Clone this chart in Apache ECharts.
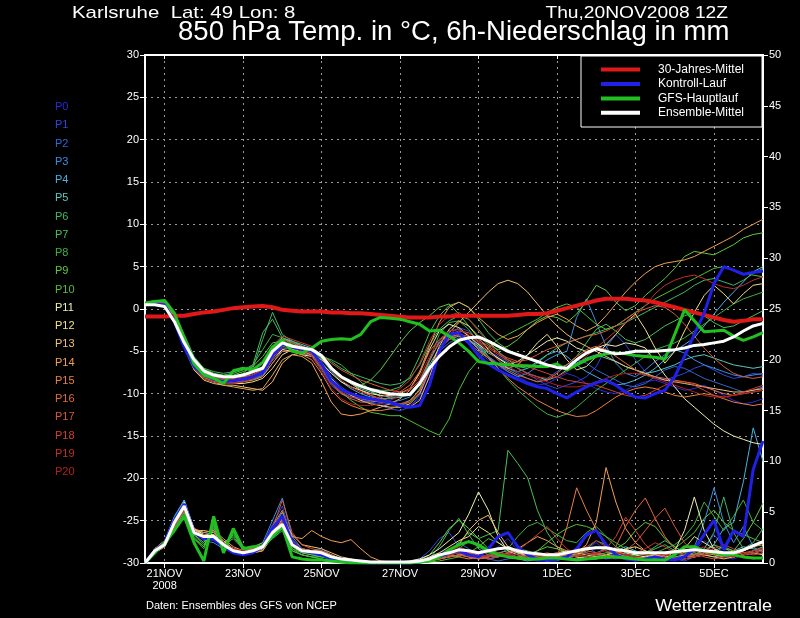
<!DOCTYPE html>
<html><head><meta charset="utf-8">
<script src="https://cdn.jsdelivr.net/npm/echarts@6/dist/echarts.min.js"></script>
<style>html,body{margin:0;padding:0;background:#000;}#c{width:800px;height:618px;}</style>
</head><body><div id="c"></div>
<script>
// forecast hours from 20NOV2008 12Z (6-hourly)
const hours = [0,6,12,18,24,30,36,42,48,54,60,66,72,78,84,90,96,102,108,114,120,126,132,138,144,150,156,162,168,174,180,186,192,198,204,210,216,222,228,234,240,246,252,258,264,270,276,282,288,294,300,306,312,318,324,330,336,342,348,354,360,366,372,378];
const xTickHours = [12,60,108,156,204,252,300,348];
const xTickLabels = ['21NOV\n2008','23NOV','25NOV','27NOV','29NOV','1DEC','3DEC','5DEC'];
const memberNames = ['P0','P1','P2','P3','P4','P5','P6','P7','P8','P9','P10','P11','P12','P13','P14','P15','P16','P17','P18','P19','P20'];
const memberColors = ['#2a2ad8','#2e46e0','#3266d2','#3a8ee0','#4cb0e0','#5cc8c0','#40b868','#48c058','#40b040','#60c840','#50c030','#f0f0b0','#f0e080','#f0c070','#f0a050','#e88040','#e06a40','#d85838','#d04030','#c03028','#b02020'];
const legendNames = ['30-Jahres-Mittel','Kontroll-Lauf','GFS-Hauptlauf','Ensemble-Mittel'];
const legendColors = ['#e01818','#2020e8','#20c020','#ffffff'];

// 850 hPa temperature (°C)
const climate = [-0.9,-0.9,-0.9,-0.8,-0.8,-0.6,-0.4,-0.3, -0.1,0.1,0.2,0.3,0.35,0.2,-0.1,-0.2, -0.3,-0.3,-0.3,-0.4,-0.4,-0.5,-0.5,-0.6, -0.7,-0.8,-0.9,-1.0,-1.0,-1.0,-0.9,-0.9, -0.8,-0.8,-0.8,-0.8,-0.8,-0.8,-0.7,-0.6, -0.6,-0.5,-0.2,0.1,0.4,0.7,1.0,1.2, 1.2,1.2,1.1,1.0,0.8,0.5,0.2,-0.1, -0.4,-0.7,-1.0,-1.3,-1.5,-1.4,-1.2,-1.2];
const ensMean = [0.5,0.5,0.3,-1.5,-4.0,-6.0,-7.3,-7.8, -8.0,-8.0,-7.8,-7.4,-7.0,-5.0,-4.0,-4.4, -4.6,-4.8,-5.5,-7.0,-8.0,-8.6,-9.1,-9.5, -9.8,-10.0,-10.1,-10.1,-8.8,-7.0,-5.6,-4.5, -3.7,-3.4,-3.3,-3.8,-4.4,-5.0,-5.4,-5.8, -6.2,-6.6,-6.9,-7.0,-6.0,-5.2,-4.7,-5.0, -5.3,-5.2,-5.0,-5.0,-5.0,-4.9,-4.8,-4.6, -4.3,-4.2,-4.0,-3.8,-3.3,-2.6,-2.0,-1.7];
const gfsMain = [0.7,0.9,1.0,-0.5,-3.5,-6.5,-7.8,-8.2, -8.8,-7.3,-7.0,-7.2,-6.3,-4.5,-3.7,-5.0, -5.2,-4.6,-3.8,-3.6,-3.5,-3.6,-3.0,-1.5, -1.0,-1.1,-1.2,-1.5,-1.8,-2.6,-2.5,-3.2, -4.0,-5.0,-6.2,-6.4,-6.5,-6.6,-6.7,-6.7, -6.8,-6.8,-6.5,-7.2,-6.6,-6.0,-5.6,-5.3, -5.2,-5.3,-5.5,-5.6,-5.7,-5.9,-3.0,-0.1, -1.4,-2.7,-2.6,-2.5,-3.2,-3.7,-3.3,-2.8];
const control = [0.5,0.6,0.5,-1.5,-4.5,-6.8,-7.8,-8.3, -8.6,-8.5,-8.3,-8.0,-7.5,-5.5,-4.2,-4.5, -4.8,-5.0,-6.5,-8.5,-9.5,-10.0,-10.4,-10.6, -10.8,-11.0,-11.4,-11.6,-11.4,-9.0,-5.0,-3.0, -2.8,-4.0,-5.5,-6.5,-7.2,-7.8,-8.3,-8.8, -9.2,-9.4,-10.0,-10.5,-9.8,-9.2,-8.7,-8.4, -9.0,-9.8,-10.4,-10.5,-10.0,-9.6,-8.0,-5.6, -3.0,-0.5,3.0,5.0,4.6,4.1,4.3,4.5];

const T_P0 = [0.5,0.6,0.4,-1.2,-4.2,-6.8,-7.9,-8.4, -8.7,-8.6,-8.4,-8.1,-7.6,-5.8,-4.4,-4.6, -5.0,-5.4,-7.0,-8.8,-9.8,-10.4,-10.8,-11.0, -11.2,-11.3,-11.5,-11.4,-10.6,-8.0,-4.6,-3.2, -3.0,-4.2,-5.2,-6.0,-6.8,-7.4,-8.0,-8.6, -9.0,-8.8,-8.2,-7.6,-8.0,-8.8,-9.4,-9.8, -10.0,-9.6,-9.0,-8.6,-8.4,-8.8,-9.2,-9.6, -9.4,-9.0,-9.6,-10.2,-10.8,-11.2,-11.0,-10.6];
const T_P1 = [0.6,0.7,0.5,-1.0,-4.0,-6.6,-7.8,-8.2, -8.5,-8.5,-8.3,-8.0,-7.4,-5.2,-4.0,-4.3, -4.7,-5.0,-6.2,-8.0,-9.2,-10.0,-10.6,-11.0, -11.4,-11.8,-12.0,-11.6,-10.2,-7.4,-4.8,-3.0, -2.2,-2.6,-3.8,-5.0,-5.6,-6.2,-7.0,-7.6, -8.4,-9.0,-9.4,-9.0,-8.6,-8.0,-6.8,-4.6, -3.0,-4.2,-6.0,-7.4,-8.2,-8.4,-8.0,-7.6, -7.0,-6.6,-7.2,-7.8,-8.2,-8.0,-7.6,-7.8];
const T_P2 = [0.4,0.5,0.3,-1.4,-4.4,-6.9,-8.0,-8.5, -8.8,-8.8,-8.6,-8.2,-7.8,-6.0,-4.6,-4.8, -5.2,-5.6,-7.2,-9.0,-10.0,-10.4,-10.6,-10.8, -11.0,-11.2,-11.2,-10.8,-9.6,-7.0,-5.0,-4.0, -3.4,-3.8,-4.6,-5.6,-6.4,-7.0,-7.6,-8.2, -8.6,-8.2,-7.4,-6.6,-6.0,-6.4,-7.2,-7.8, -8.4,-9.0,-9.2,-8.8,-8.0,-7.2,-6.8,-7.0, -7.6,-8.2,-8.6,-9.0,-9.4,-9.8,-9.6,-9.2];
const T_P3 = [0.5,0.8,0.6,-0.8,-3.8,-6.4,-7.6,-8.0, -8.4,-8.6,-8.6,-8.3,-7.9,-6.4,-4.8,-4.4, -4.6,-5.2,-6.6,-8.4,-9.6,-10.2,-10.6,-10.8, -11.0,-11.0,-10.8,-10.4,-9.0,-6.2,-3.8,-2.6, -2.4,-3.2,-4.4,-5.6,-6.6,-7.4,-8.0,-7.6, -6.8,-6.0,-5.4,-5.0,-1.0,1.2,-1.6,-4.4, -6.4,-7.6,-8.0,-7.2,-6.2,-5.4,-4.8,-5.2, -6.0,-6.6,-7.0,-7.4,-7.8,-8.0,-7.8,-7.6];
const T_P4 = [0.6,0.6,0.4,-1.2,-4.2,-6.6,-7.6,-8.0, -8.2,-8.2,-8.0,-7.8,-7.2,-5.0,-3.6,-3.8, -4.4,-4.8,-5.8,-7.4,-8.6,-9.4,-10.0,-10.4, -10.6,-10.6,-10.4,-10.0,-8.6,-6.0,-4.0,-3.0, -2.8,-3.6,-4.8,-5.8,-6.6,-7.0,-7.4,-7.0, -6.2,-5.4,-5.0,-5.6,-6.6,-7.4,-8.0,-8.6, -9.0,-8.8,-8.4,-7.8,-7.0,-6.0,-5.0,-4.2, -3.4,-2.0,-0.6,0.8,2.0,3.2,4.4,5.0];
const T_P5 = [0.5,0.7,0.6,-1.0,-3.8,-6.2,-7.4,-7.8, -8.0,-8.0,-7.8,-7.4,-6.8,-4.4,-3.4,-3.8, -4.2,-4.6,-5.4,-6.8,-8.0,-8.8,-9.4,-9.8, -10.2,-10.4,-10.4,-10.2,-9.0,-6.6,-4.6,-3.6, -3.2,-3.6,-4.4,-5.2,-5.8,-6.4,-7.0,-7.6, -8.0,-8.4,-8.0,-7.2,-6.4,-5.8,-5.4,-5.8, -6.2,-6.8,-7.2,-7.6,-7.4,-7.0,-6.6,-6.0, -5.6,-5.4,-5.8,-6.2,-6.6,-6.8,-7.0,-6.8];
const T_P6 = [0.7,0.9,0.8,-0.6,-3.2,-5.8,-7.0,-7.4, -7.6,-7.4,-7.0,-7.0,-3.6,-0.4,-3.0,-3.8, -4.4,-4.8,-5.4,-6.2,-7.0,-7.6,-8.0,-8.4, -8.8,-9.0,-8.8,-8.2,-6.6,-4.2,-2.4,-1.4, -0.8,-1.2,-2.4,-3.8,-5.0,-6.0,-6.8,-7.0, -6.4,-5.4,-4.6,-4.0,-3.6,-3.2,-2.8,-2.4, -2.0,-1.6,-1.0,-0.4,0.2,0.8,1.4,2.0, 2.8,3.4,3.6,3.2,2.8,3.4,4.2,4.8];
const T_P7 = [0.6,0.8,0.7,-0.8,-3.6,-6.0,-7.2,-7.6, -7.8,-7.6,-7.2,-6.6,-2.8,-1.2,-3.4,-4.0, -4.6,-5.0,-6.0,-7.2,-8.2,-8.8,-9.2,-9.4, -9.6,-9.6,-9.2,-8.0,-5.6,-2.8,-0.8,0.4, 0.8,0.2,-1.2,-2.8,-4.0,-4.8,-5.4,-5.8, -6.2,-6.6,-7.0,-6.6,-5.6,-4.0,-2.4,-1.8, -2.6,-3.6,-4.0,-3.6,-2.8,-2.0,-1.4,-0.8, -0.4,-0.8,-1.6,-2.2,-2.0,-1.4,-0.8,-0.2];
const T_P8 = [0.7,1.0,0.9,-0.4,-3.0,-5.6,-7.0,-7.6, -8.0,-8.0,-7.6,-6.6,-4.8,-3.0,-3.4,-4.2, -4.8,-5.2,-5.6,-6.0,-6.6,-7.6,-8.6,-9.6, -10.4,-11.0,-11.4,-11.0,-9.4,-6.0,-3.0,-1.6, -1.4,-2.4,-4.0,-5.6,-7.0,-8.4,-9.6,-10.6, -11.6,-12.4,-12.8,-12.4,-11.6,-10.6,-9.6,-8.8, -8.0,-7.2,-6.4,-5.6,-4.8,-4.4,-4.0,-3.4, -2.6,-1.8,-1.0,-0.2,0.6,1.2,1.6,2.0];
const T_P9 = [0.6,0.8,0.7,-0.6,-3.4,-6.2,-7.4,-7.8, -8.0,-7.8,-7.4,-6.8,-5.6,-4.0,-3.8,-4.2, -4.6,-5.0,-5.8,-7.0,-8.0,-8.6,-9.0,-8.4, -7.2,-5.6,-4.0,-2.6,-1.6,-0.8,0.2,0.6, -0.6,-2.0,-3.2,-4.2,-4.8,-4.4,-3.6,-2.4, -1.4,-0.8,-1.0,-1.6,-0.6,1.0,2.8,2.2, 0.8,-0.2,0.4,1.6,2.6,3.6,4.8,6.2, 6.8,6.6,6.4,7.0,7.6,8.4,8.8,9.0];
const T_P10 = [0.5,0.7,0.6,-1.0,-4.0,-6.6,-7.8,-8.2, -8.4,-8.4,-8.2,-7.8,-7.2,-5.6,-4.4,-4.6, -5.0,-5.6,-7.0,-8.6,-9.8,-10.8,-11.6,-12.2, -12.4,-12.6,-12.6,-13.2,-13.8,-14.4,-14.9,-13.0, -9.6,-7.4,-6.0,-4.6,-3.6,-3.0,-2.4,-1.8, -1.2,-0.4,0.2,0.6,0.2,-0.8,-1.8,-2.4, -2.0,-1.2,-0.4,0.4,1.2,1.8,2.4,3.0, 3.6,4.2,4.8,5.0,4.6,4.2,4.0,3.8];
const T_P11 = [0.4,0.6,0.5,-1.2,-4.4,-7.0,-8.2,-8.6, -8.8,-8.6,-8.4,-8.0,-7.6,-6.0,-4.8,-5.0, -5.4,-5.6,-6.4,-7.6,-8.6,-9.2,-9.6,-10.0, -10.2,-10.2,-10.0,-9.4,-7.6,-4.8,-2.6,-1.8, -2.2,-3.2,-4.2,-5.0,-5.8,-6.6,-6.2,-5.4, -4.6,-3.8,-3.4,-3.8,-4.6,-5.0,-4.6,-4.2, -4.4,-4.0,-4.2,-4.6,-6.2,-7.8,-9.2,-10.6, -11.6,-12.6,-13.6,-14.4,-15.0,-15.4,-15.8,-16.0];
const T_P12 = [0.5,0.7,0.6,-0.8,-3.8,-6.4,-7.6,-8.2, -8.6,-8.8,-8.8,-8.6,-8.2,-7.0,-5.4,-4.8, -5.0,-5.4,-6.6,-8.2,-9.4,-10.2,-10.8,-11.2, -11.4,-11.6,-11.6,-11.2,-10.0,-7.2,-4.4,-2.4, -1.4,-2.0,-3.4,-4.8,-6.0,-7.0,-6.6,-5.4, -4.0,-3.0,-4.4,-6.0,-7.2,-6.8,-5.6,-4.2, -3.0,-1.6,-0.6,-2.4,-4.6,-6.4,-5.0,-2.6, -0.4,1.6,2.8,1.8,0.6,1.8,2.8,3.0];
const T_P13 = [0.4,0.5,0.4,-1.4,-4.6,-7.2,-8.4,-8.8, -9.0,-9.0,-9.2,-9.4,-9.6,-8.6,-6.4,-5.4, -5.2,-5.4,-6.0,-7.0,-8.0,-8.8,-9.6,-10.2, -10.6,-11.0,-11.4,-11.6,-10.8,-8.0,-4.8,-2.8, -1.6,-0.4,0.8,2.0,3.0,3.4,3.0,2.0, 0.6,-0.8,-2.0,-3.0,-3.8,-4.4,-5.0,-5.6, -6.2,-6.8,-7.2,-7.6,-8.0,-8.4,-8.6,-8.8, -9.0,-9.2,-9.4,-9.6,-9.8,-9.8,-9.6,-9.4];
const T_P14 = [0.5,0.6,0.5,-1.2,-4.2,-6.8,-8.0,-8.6, -9.0,-9.2,-9.4,-9.6,-9.4,-7.8,-6.0,-5.4, -5.6,-6.4,-8.6,-11.0,-12.4,-12.6,-12.4,-12.0, -11.6,-11.2,-10.6,-9.6,-7.4,-4.4,-1.6,0.2, 0.8,0.2,-1.0,-2.0,-3.0,-3.6,-3.2,-2.4, -1.6,-1.0,-0.6,-1.2,-2.0,-2.6,-2.0,-0.8, 0.6,2.0,3.2,4.2,5.0,5.4,5.6,5.8, 6.2,6.8,7.4,8.0,8.6,9.4,10.0,10.6];
const T_P15 = [0.5,0.6,0.4,-1.4,-4.6,-7.0,-8.2,-8.6, -8.8,-8.8,-8.6,-8.4,-8.0,-6.4,-5.0,-5.0, -5.4,-6.0,-7.6,-9.6,-10.8,-11.4,-11.8,-12.0, -12.0,-11.8,-11.4,-10.8,-9.6,-7.2,-4.8,-3.4, -3.0,-3.6,-4.6,-5.8,-7.0,-8.2,-9.2,-10.0, -10.8,-11.4,-12.0,-12.4,-12.7,-12.6,-12.0,-11.2, -10.4,-9.8,-9.4,-9.2,-9.4,-9.8,-10.2,-10.4, -10.2,-10.0,-10.2,-10.6,-11.0,-11.2,-11.4,-11.2];
const T_P16 = [0.4,0.6,0.5,-1.0,-4.0,-6.6,-7.8,-8.4, -8.6,-8.6,-8.4,-8.0,-7.6,-5.8,-4.2,-4.4, -4.8,-5.2,-6.8,-8.8,-10.0,-10.6,-11.0,-11.0, -10.8,-10.4,-9.8,-9.0,-7.4,-5.0,-3.6,-3.0, -3.2,-4.0,-5.0,-5.8,-6.6,-7.2,-7.8,-8.2, -8.6,-8.4,-7.6,-6.6,-5.6,-4.8,-4.4,-4.8, -5.6,-6.4,-7.2,-7.8,-8.0,-8.2,-8.4,-8.6, -8.8,-9.2,-9.6,-10.0,-10.2,-10.0,-9.8,-9.6];
const T_P17 = [0.5,0.7,0.6,-0.8,-3.6,-6.2,-7.4,-8.0, -8.4,-8.4,-8.2,-7.8,-7.0,-4.8,-3.6,-4.0, -4.4,-4.8,-5.4,-6.4,-7.2,-7.8,-8.4,-8.8, -9.2,-9.6,-9.8,-9.6,-8.4,-6.0,-4.0,-3.0, -2.6,-2.8,-3.6,-4.4,-5.2,-5.8,-6.2,-6.0, -5.4,-4.8,-4.4,-4.0,-3.6,-3.2,-3.0,-2.6, -2.0,-1.2,-0.4,0.0,0.4,0.2,-0.6,-1.8, -3.2,-4.6,-5.8,-6.8,-7.6,-8.0,-8.2,-8.0];
const T_P18 = [0.6,0.8,0.7,-0.6,-3.4,-6.0,-7.2,-7.8, -8.2,-8.2,-8.0,-7.6,-6.8,-4.4,-3.2,-3.6, -4.0,-4.4,-5.6,-7.2,-8.4,-9.2,-9.8,-10.2, -10.6,-11.0,-11.2,-11.0,-9.8,-7.2,-4.8,-3.6, -3.0,-3.2,-3.8,-4.6,-5.4,-6.0,-6.4,-6.8, -7.2,-7.6,-8.0,-8.4,-8.6,-8.8,-9.0,-9.4, -9.8,-10.2,-10.4,-10.2,-9.6,-9.0,-8.6,-8.6, -9.0,-9.6,-10.2,-10.4,-10.2,-9.8,-9.4,-9.0];
const T_P19 = [0.5,0.6,0.5,-1.2,-4.2,-6.8,-8.0,-8.4, -8.6,-8.4,-8.2,-7.8,-7.2,-5.4,-4.2,-4.4, -4.8,-5.4,-7.0,-8.8,-9.8,-10.4,-10.6,-10.6, -10.4,-10.0,-9.4,-8.4,-6.4,-3.8,-1.8,-0.8, -0.4,-1.2,-2.6,-4.0,-5.2,-6.2,-7.0,-7.6, -8.0,-8.2,-8.0,-7.4,-6.6,-5.6,-4.6,-3.6, -2.6,-1.6,-0.8,0.4,1.8,2.8,3.4,3.8, 4.0,3.6,3.0,2.6,2.4,2.8,3.4,3.8];
const T_P20 = [0.4,0.5,0.4,-1.4,-4.6,-7.0,-8.2,-8.6, -8.8,-8.8,-8.6,-8.2,-7.6,-6.0,-4.6,-4.6, -5.0,-5.6,-7.4,-9.4,-10.6,-11.2,-11.4,-11.4, -11.2,-10.8,-10.2,-9.4,-8.0,-5.6,-3.6,-2.6, -2.4,-3.0,-4.0,-5.0,-6.0,-6.8,-7.4,-7.8, -8.2,-8.6,-9.0,-9.2,-9.2,-9.0,-8.6,-8.2, -7.8,-7.6,-7.6,-7.8,-8.2,-8.6,-9.0,-9.4, -9.8,-10.2,-10.4,-10.4,-10.2,-10.0,-9.8,-9.6];

// 6h precipitation (mm)
const precipMean = [0,1.2,1.8,4.0,5.6,3.0,2.6,2.6, 1.8,1.2,1.0,1.2,1.6,3.0,3.8,1.8, 1.2,1.1,1.0,0.6,0.4,0.3,0.2,0.1, 0.1,0.1,0.1,0.1,0.2,0.4,0.8,1.0, 1.3,1.2,1.0,1.2,1.4,1.5,1.2,1.0, 0.9,0.8,0.8,1.0,1.2,1.4,1.5,1.5, 1.3,1.2,1.0,1.0,1.0,1.0,1.1,1.2, 1.3,1.2,1.1,1.0,1.0,1.3,1.7,2.1];
const precipGfs = [0,1.0,2.0,3.2,4.6,2.0,0.2,4.6, 1.0,3.4,1.4,1.6,1.6,2.6,3.6,0.6, 0.4,0.3,0.3,0.2,0.1,0,0,0, 0,0,0,0,0.1,0.2,0.6,1.3, 1.8,2.1,1.8,1.2,0.8,0.6,0.5,0.4, 0.4,0.5,0.5,0.4,0.3,0.4,0.5,0.6, 0.6,0.5,0.4,0.3,0.3,0.3,0.8,1.6, 1.6,1.2,1.0,0.8,0.8,0.6,0.5,0.5];
const precipControl = [0,1.2,2.0,4.2,5.8,3.0,2.4,2.4, 1.6,1.0,0.8,1.0,1.6,3.4,4.6,2.0, 1.2,1.0,0.8,0.4,0.2,0.1,0,0, 0,0,0,0,0.1,0.3,0.6,1.0, 1.2,0.8,0.6,1.4,2.6,3.0,1.6,0.8, 0.4,0.3,0.4,0.6,1.4,2.8,3.2,1.8, 0.8,0.4,0.3,0.4,0.6,0.4,0.3,0.6, 1.4,2.8,4.2,1.3,3.2,2.6,9.2,12.0];

const R_P0 = [0,1.0,1.6,3.6,5.4,3.2,2.4,2.2, 1.6,1.0,0.8,1.0,1.4,3.4,4.4,2.2, 1.4,1.0,0.8,0.4,0.2,0.1,0,0, 0,0,0,0.1,0.2,0.6,1.0,1.4, 1.0,0.6,0.4,0.8,1.6,2.4,1.2,0.6, 0.4,0.3,0.6,1.0,0.8,1.4,2.0,1.2, 0.6,0.4,0.6,0.8,0.5,0.3,0.4,0.6, 1.2,2.2,1.4,0.6,0.4,0.8,1.0,1.6];
const R_P1 = [0,1.4,2.0,4.2,6.0,3.4,2.6,2.4, 1.4,1.0,0.8,1.2,1.8,3.8,5.6,2.4, 1.2,0.8,0.6,0.4,0.2,0.1,0,0, 0,0,0.1,0.2,0.4,1.2,2.4,3.0, 1.6,0.8,0.6,0.4,0.6,1.0,0.6,0.4, 0.2,0.2,0.4,0.6,1.2,2.6,3.2,1.6, 0.8,0.4,0.2,0.4,0.8,0.6,0.4,0.2, 0.6,1.4,2.8,1.6,0.8,0.6,0.4,0.6];
const R_P2 = [0,1.2,1.8,3.8,5.8,3.0,2.8,2.4, 1.8,1.2,1.0,1.4,1.6,3.2,4.6,2.0, 1.0,1.2,1.4,0.8,0.4,0.2,0.1,0, 0,0,0,0,0.2,0.4,0.6,1.2, 2.0,1.4,0.6,0.4,0.2,0.4,0.6,0.8, 0.4,0.2,0.2,0.6,1.0,1.6,1.0,0.6, 0.4,0.8,1.2,0.6,0.3,0.2,0.4,0.6, 0.8,1.2,1.8,1.0,0.6,0.8,1.2,1.4];
const R_P3 = [0,1.2,2.0,4.4,6.2,3.4,2.2,2.0, 1.4,1.2,1.2,1.4,2.0,4.2,6.4,2.6, 1.4,1.0,0.8,0.6,0.4,0.2,0.1,0, 0,0,0.1,0.1,0.2,0.2,0.4,0.6, 0.8,1.0,0.6,0.4,0.6,1.0,1.2,0.8, 0.4,0.2,0.4,0.8,1.4,1.0,0.6,0.4, 0.6,0.8,1.0,1.2,0.6,0.3,0.4,0.8, 1.6,4.0,7.4,4.0,2.0,3.6,1.6,1.0];
const R_P4 = [0,1.4,2.2,4.6,6.2,3.2,2.4,2.6, 2.0,1.4,1.0,1.2,1.6,3.4,5.0,2.0, 1.2,1.0,1.0,0.6,0.4,0.2,0.1,0, 0,0,0,0,0.2,0.4,0.6,0.8, 1.2,0.8,0.4,0.6,0.8,0.6,0.4,0.2, 0.4,0.6,0.8,0.6,0.4,0.6,1.0,1.4, 1.0,0.6,0.4,0.4,0.6,0.8,0.6,0.4, 0.6,1.0,1.8,3.4,4.0,8.0,13.3,10.0];
const R_P5 = [0,1.0,1.6,3.8,5.4,3.2,3.0,2.8, 2.0,1.4,1.2,1.2,1.4,2.6,3.4,1.8, 1.4,1.2,1.0,0.6,0.4,0.3,0.2,0.1, 0,0,0,0.1,0.2,0.3,0.6,0.8, 1.0,0.8,0.6,0.8,1.0,1.2,1.0,0.6, 0.4,0.4,0.6,0.8,0.6,0.4,0.6,0.8, 1.2,1.6,1.2,0.8,0.6,0.4,0.6,0.8, 1.0,0.8,0.6,0.8,1.2,1.6,1.4,1.2];
const R_P6 = [0,1.4,2.0,3.4,5.0,2.6,1.6,3.6, 1.8,2.4,1.4,1.4,1.8,2.8,3.6,1.4, 1.0,0.8,0.8,0.4,0.2,0.1,0,0, 0,0,0,0.1,0.2,0.4,1.6,3.2, 4.4,2.8,1.4,0.8,0.6,1.0,1.4,1.2, 0.8,0.6,0.4,0.6,0.8,1.4,2.2,1.8, 1.2,0.8,0.6,1.0,1.6,2.2,1.6,1.0, 0.8,1.4,3.0,6.5,3.0,1.4,2.0,3.4];
const R_P7 = [0,1.2,1.8,3.6,5.2,2.8,1.8,3.2, 1.6,2.8,1.6,1.2,1.6,2.4,3.2,1.2, 0.8,0.6,0.6,0.4,0.2,0.1,0,0, 0,0,0,0,0.1,0.2,0.6,1.2, 2.0,3.0,2.4,2.8,3.2,11.1,9.8,8.4, 5.2,3.0,1.6,1.0,0.8,1.2,1.6,1.2, 0.8,0.6,0.8,1.0,1.4,1.8,1.2,0.8, 0.6,0.8,1.2,1.6,1.2,0.8,1.2,1.6];
const R_P8 = [0,1.0,1.6,3.2,4.8,2.4,1.4,4.0, 1.4,3.0,1.2,1.2,1.6,2.6,3.4,1.4, 0.8,0.6,0.4,0.2,0.1,0,0,0, 0,0,0,0,0.1,0.2,0.4,0.8, 1.4,2.2,1.6,1.0,0.8,1.4,2.6,3.6, 4.0,3.4,2.8,2.2,2.0,3.0,3.6,2.6, 1.6,1.0,0.8,0.6,1.0,1.4,1.8,2.6, 3.8,6.0,4.6,3.2,4.6,6.2,4.0,3.2];
const R_P9 = [0,1.4,2.2,3.8,5.4,2.8,2.0,3.4, 2.0,2.6,1.4,1.6,2.0,3.0,3.8,1.6, 1.0,0.8,0.6,0.4,0.2,0.1,0,0, 0,0,0,0.1,0.3,0.8,2.0,3.4, 4.2,3.4,2.4,1.4,1.0,0.8,0.6,0.8, 1.2,1.6,1.4,1.0,0.8,0.6,0.8,1.0, 1.4,2.0,3.2,4.0,3.6,2.4,1.6,1.0, 0.8,1.2,1.8,1.4,1.2,2.4,4.0,5.9];
const R_P10 = [0,1.2,2.0,3.6,5.0,2.4,1.6,3.8, 1.6,3.2,1.6,1.4,1.8,2.6,3.4,1.2, 0.8,0.6,0.4,0.2,0.1,0,0,0, 0,0,0,0,0,0.1,0.2,0.4, 0.6,1.0,1.6,2.4,2.0,1.4,1.0,0.8, 1.2,2.0,2.8,3.4,3.8,3.6,3.2,2.6, 2.0,1.4,1.0,0.8,0.6,0.8,1.4,2.2, 3.0,4.4,5.2,4.0,3.2,2.8,2.4,2.0];
const R_P11 = [0,1.2,1.8,4.2,6.0,3.4,2.8,2.6, 1.8,1.2,1.0,1.0,1.4,3.0,3.6,2.0, 1.4,1.2,1.0,0.6,0.4,0.2,0.1,0.1, 0,0,0.1,0.2,0.4,0.8,1.4,2.2, 3.0,4.8,7.0,5.2,2.6,1.2,0.8,0.6, 0.4,0.4,0.6,0.8,0.6,0.4,0.4,0.6, 0.8,1.0,0.8,0.6,0.4,0.4,1.2,3.2, 6.5,3.2,1.4,0.8,0.6,0.8,1.0,1.2];
const R_P12 = [0,1.0,1.8,4.0,5.8,3.2,2.8,2.8, 2.0,1.4,1.2,1.2,1.6,3.2,4.0,2.0, 1.2,1.2,1.2,0.8,0.4,0.2,0.1,0, 0,0,0,0.1,0.2,0.6,1.0,1.6, 2.2,2.6,3.6,3.0,2.0,1.4,1.0,0.8, 0.6,0.8,1.0,1.2,1.0,0.8,0.6,0.8, 1.0,1.4,1.6,1.2,0.8,0.6,0.8,1.4, 2.6,2.0,1.4,1.0,0.8,1.2,1.6,2.0];
const R_P13 = [0,1.2,1.8,4.0,5.6,3.2,3.2,3.0, 2.2,1.4,1.2,1.0,1.2,2.6,4.4,2.8, 1.8,1.6,1.4,1.0,0.6,0.4,0.2,0.1, 0,0,0,0.1,0.2,0.4,0.8,1.2, 1.8,3.2,4.2,4.7,3.0,1.6,1.0,0.8, 0.6,0.4,0.6,0.8,0.6,0.4,0.6,0.8, 0.6,0.4,0.4,0.6,0.8,0.6,0.4,0.4, 0.6,0.8,0.6,0.4,0.6,0.8,1.0,0.8];
const R_P14 = [0,1.0,1.6,3.8,5.4,3.4,3.0,3.2, 2.4,1.6,1.2,1.0,1.2,2.8,4.0,2.6, 2.4,3.2,2.6,2.2,2.0,2.3,1.4,0.6, 0.2,0.1,0,0,0.1,0.2,0.4,0.6, 0.8,0.6,0.4,0.6,0.8,1.0,1.4,2.0, 2.6,2.2,1.6,1.2,1.0,1.8,4.0,9.4, 6.0,3.4,2.0,1.2,0.8,0.6,0.4,0.6, 0.8,1.0,0.8,0.6,0.8,1.2,1.6,1.8];
const R_P15 = [0,1.2,2.0,4.2,5.8,3.0,2.6,2.4, 1.8,1.2,1.0,1.2,1.8,3.6,5.2,2.2, 1.4,1.2,1.0,0.6,0.4,0.2,0.1,0, 0,0,0,0.1,0.2,0.4,0.6,0.8, 0.6,0.4,0.6,0.8,1.0,0.8,0.6,0.8, 0.8,0.6,0.6,3.5,7.4,5.2,3.3,1.5, 1.2,0.8,0.6,0.4,0.6,0.8,1.0,0.8, 0.6,0.8,1.0,0.8,0.6,0.8,1.0,1.2];
const R_P16 = [0,1.4,2.2,4.0,5.6,3.0,2.6,2.6, 1.8,1.2,1.0,1.2,1.6,3.0,4.2,2.0, 1.2,1.0,0.8,0.6,0.4,0.2,0.1,0, 0,0,0,0,0.1,0.2,0.4,0.6, 0.8,1.0,0.8,0.6,0.8,1.0,1.4,1.0, 0.8,0.6,0.6,0.8,1.0,1.2,1.0,0.8, 1.6,3.6,5.2,6.4,4.4,2.6,1.4,0.8, 0.6,0.8,1.0,0.8,0.6,0.8,1.0,1.2];
const R_P17 = [0,1.2,1.8,3.8,5.4,3.0,2.6,2.4, 1.8,1.4,1.2,1.4,1.8,3.4,6.2,3.0, 1.8,1.4,1.2,0.8,0.4,0.2,0.1,0, 0,0,0,0,0.1,0.2,0.4,0.6, 0.8,0.6,0.4,0.6,0.8,0.6,0.4,0.6, 0.8,1.0,0.8,0.6,0.8,1.0,0.8,0.6, 0.8,1.2,2.0,3.2,4.4,5.4,3.6,2.0, 1.0,0.6,0.4,0.6,0.8,1.0,1.2,1.4];
const R_P18 = [0,1.0,1.6,3.6,5.2,3.0,2.8,2.6, 2.0,1.4,1.2,1.2,1.6,2.8,3.6,1.8, 1.2,1.2,1.0,0.6,0.4,0.2,0.1,0, 0,0,0,0.1,0.2,0.4,0.6,1.0, 1.4,1.0,0.6,0.4,0.6,0.8,1.2,2.0, 2.8,3.6,2.4,1.4,0.8,0.6,0.8,1.4, 2.6,4.5,3.2,1.8,1.0,0.6,0.4,0.6, 0.8,1.0,1.4,1.8,1.4,1.0,0.8,1.0];
const R_P19 = [0,1.2,2.0,4.0,5.6,3.2,2.6,2.6, 1.8,1.2,1.0,1.2,1.6,3.2,4.6,2.2, 1.4,1.2,1.0,0.6,0.4,0.2,0.1,0, 0,0,0,0,0.2,0.4,0.8,1.2, 1.6,1.2,0.8,0.6,0.8,1.0,0.8,0.6, 0.4,0.6,0.8,1.0,1.2,1.6,2.2,1.6, 1.0,0.8,1.0,1.4,2.0,1.6,1.0,0.8, 1.2,1.6,1.2,0.8,0.6,0.8,1.2,1.4];
const R_P20 = [0,1.0,1.8,3.8,5.4,3.0,2.6,2.6, 1.8,1.4,1.2,1.2,1.6,3.0,4.0,2.0, 1.2,1.2,1.0,0.6,0.4,0.2,0.1,0, 0,0,0,0,0.1,0.3,0.6,0.8, 1.0,0.8,0.6,0.8,1.0,0.8,0.6,0.4, 0.6,0.8,1.0,0.8,0.6,0.8,1.0,1.2, 1.0,0.8,0.6,0.8,1.0,0.8,0.6,0.4, 0.6,0.8,1.0,0.8,0.6,0.8,1.0,1.2];

const memberTemps = [T_P0,T_P1,T_P2,T_P3,T_P4,T_P5,T_P6,T_P7,T_P8,T_P9,T_P10,T_P11,T_P12,T_P13,T_P14,T_P15,T_P16,T_P17,T_P18,T_P19,T_P20];
const memberPrecip = [R_P0,R_P1,R_P2,R_P3,R_P4,R_P5,R_P6,R_P7,R_P8,R_P9,R_P10,R_P11,R_P12,R_P13,R_P14,R_P15,R_P16,R_P17,R_P18,R_P19,R_P20];

const FONT = 'Liberation Sans';
const chart = echarts.init(document.getElementById('c'), null, {renderer: 'canvas'});

function thin(name, data, axis, color) {
  return {name: name, type: 'line', data: data, yAxisIndex: axis, symbol: 'none', silent: true,
    lineStyle: {width: 1, color: color}, itemStyle: {color: color}, z: 2, animation: false};
}
function thick(name, data, axis, color, w) {
  return {name: name, type: 'line', data: data, yAxisIndex: axis, symbol: 'none', silent: true,
    lineStyle: {width: w, color: color}, itemStyle: {color: color}, z: 3, animation: false};
}
const series = [];
memberPrecip.forEach((d, k) => series.push(thin(memberNames[k] + ' RR', d, 1, memberColors[k])));
memberTemps.forEach((d, k) => series.push(thin(memberNames[k], d, 0, memberColors[k])));
series.push(thick(legendNames[0], climate, 0, legendColors[0], 4));
series.push(thick(legendNames[1], precipControl, 1, legendColors[1], 3));
series.push(thick(legendNames[1], control, 0, legendColors[1], 3));
series.push(thick(legendNames[2], precipGfs, 1, legendColors[2], 3));
series.push(thick(legendNames[2], gfsMain, 0, legendColors[2], 3));
series.push(thick(legendNames[3], precipMean, 1, legendColors[3], 3));
series.push(thick(legendNames[3], ensMean, 0, legendColors[3], 3));

const isTick = (idx, val) => xTickHours.indexOf(Number(val)) >= 0;
const graphics = [
  {type: 'rect', shape: {x: 581, y: 56, width: 181, height: 71}, style: {fill: '#000', stroke: '#fff', lineWidth: 1}, z: 5, silent: true},
  {type: 'text', x: 72, y: 13, scaleX: 1.2, style: {text: 'Karlsruhe  Lat: 49 Lon: 8', fill: '#fff', font: '17px ' + FONT, textVerticalAlign: 'middle'}},
  {type: 'text', x: 728, y: 13, scaleX: 1.13, style: {text: 'Thu,20NOV2008 12Z', fill: '#fff', font: '17px ' + FONT, textAlign: 'right', textVerticalAlign: 'middle'}},
  {type: 'text', x: 178, y: 33, scaleX: 1.02, style: {text: '850 hPa Temp. in °C, 6h-Niederschlag in mm', fill: '#fff', font: '27px ' + FONT, textVerticalAlign: 'middle'}},
  {type: 'text', x: 146, y: 606, style: {text: 'Daten: Ensembles des GFS von NCEP', fill: '#fff', font: '11px ' + FONT, textVerticalAlign: 'middle'}},
  {type: 'text', x: 772, y: 606, scaleX: 1.06, style: {text: 'Wetterzentrale', fill: '#fff', font: '17px ' + FONT, textAlign: 'right', textVerticalAlign: 'middle'}}
];
memberNames.forEach((n, k) => graphics.push({type: 'text', x: 55, y: 107 + k * 18.25,
  style: {text: n, fill: memberColors[k], font: '11px ' + FONT, textVerticalAlign: 'middle'}}));

chart.setOption({
  backgroundColor: '#000',
  animation: false,
  textStyle: {fontFamily: FONT},
  grid: {left: 145, right: 37, top: 55, bottom: 55, containLabel: false},
  legend: {
    data: legendNames.map((n, k) => ({name: n, itemStyle: {color: legendColors[k], borderWidth: 0}})),
    orient: 'vertical', left: 596, top: 58, itemWidth: 39, itemHeight: 4, icon: 'rect', itemGap: 1.2,
    selectedMode: false, z: 10,
    textStyle: {color: '#fff', fontSize: 12, fontFamily: FONT, lineHeight: 13.2, padding: [0, 0, 0, 13]}
  },
  xAxis: [{
    type: 'category', data: hours, boundaryGap: false, position: 'bottom',
    axisLine: {show: true, onZero: false, lineStyle: {color: '#fff', width: 2}},
    axisTick: {show: true, interval: isTick, length: 5, lineStyle: {color: '#fff', width: 1}},
    axisLabel: {interval: isTick, color: '#fff', fontSize: 11, fontFamily: FONT, margin: 5, lineHeight: 12,
      formatter: (v) => { const k = xTickHours.indexOf(Number(v)); return k >= 0 ? xTickLabels[k] : ''; }},
    splitLine: {show: true, interval: isTick, lineStyle: {color: '#9a9a9a', width: 1, type: [2, 4]}}
  }, {
    type: 'category', data: hours, boundaryGap: false, position: 'top',
    axisLine: {show: true, onZero: false, lineStyle: {color: '#fff', width: 2}},
    axisTick: {show: true, inside: true, interval: isTick, length: 4, lineStyle: {color: '#fff'}},
    axisLabel: {show: false}, splitLine: {show: false}
  }],
  yAxis: [{
    type: 'value', min: -30, max: 30, interval: 5, position: 'left',
    axisLine: {show: true, onZero: false, lineStyle: {color: '#fff', width: 2}},
    axisTick: {show: true, length: 5, lineStyle: {color: '#fff'}},
    axisLabel: {color: '#fff', fontSize: 11, fontFamily: FONT, margin: 6},
    splitLine: {show: true, lineStyle: {color: '#9a9a9a', width: 1, type: [2, 4]}}
  }, {
    type: 'value', min: 0, max: 50, interval: 5, position: 'right',
    axisLine: {show: true, onZero: false, lineStyle: {color: '#fff', width: 2}},
    axisTick: {show: true, length: 5, lineStyle: {color: '#fff'}},
    axisLabel: {color: '#fff', fontSize: 11, fontFamily: FONT, margin: 6},
    splitLine: {show: false}
  }],
  graphic: graphics,
  series: series
});
</script>
</body></html>
